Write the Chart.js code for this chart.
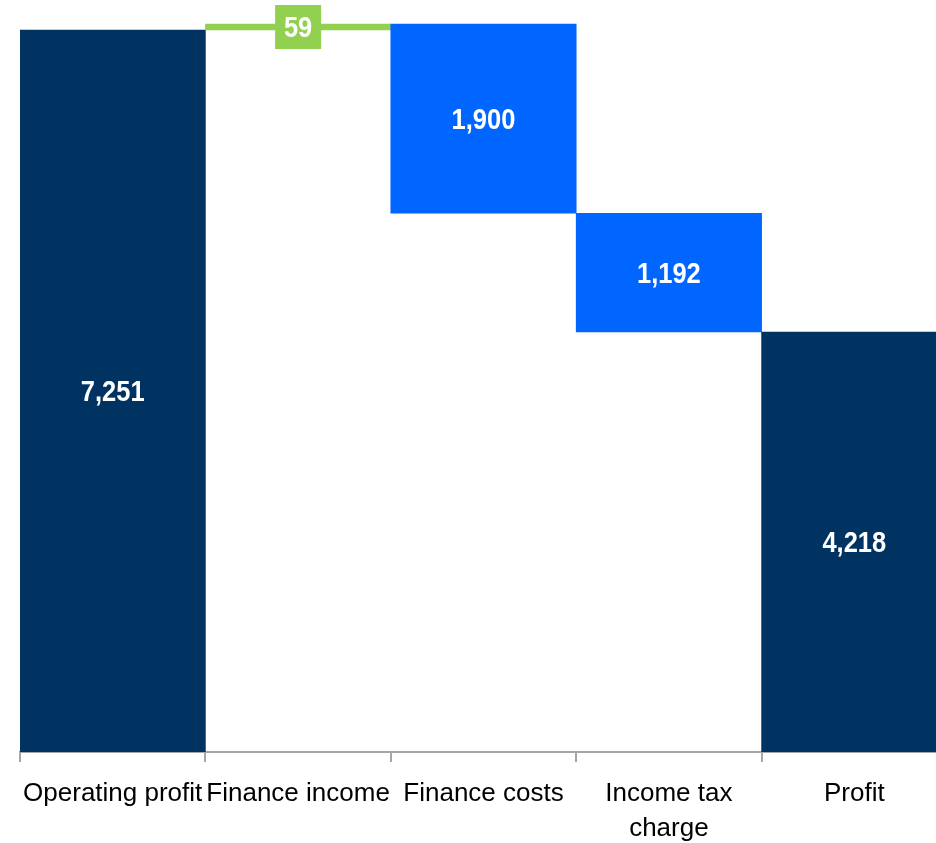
<!DOCTYPE html>
<html>
<head>
<meta charset="utf-8">
<script src="https://cdn.jsdelivr.net/npm/chart.js@4/dist/chart.umd.min.js"></script>
<style>
html,body{margin:0;padding:0;background:#fff;overflow:hidden;}
#wrap{width:936px;height:843px;overflow:hidden;position:relative;}
canvas{display:block;}
</style>
</head>
<body>
<div id="wrap"><canvas id="c" width="947" height="843"></canvas></div>
<script>
const categories = ["Operating profit", "Finance income", "Finance costs", ["Income tax", "charge"], "Profit"];
const values = [7251, 59, -1900, -1192, 4218];
const kinds = ["total", "delta", "delta", "delta", "total"];
const valueLabels = ["7,251", "59", "1,900", "1,192", "4,218"];

const NAVY = "#003362", BLUE = "#0066FF", GREEN = "#92D050";
const FONT = "'Liberation Sans','Arial',sans-serif";

let running = 0;
const ranges = values.map((v, i) => {
  if (kinds[i] === "total") { running = v; return [0, v]; }
  const r = [running, running + v]; running += v; return r;
});
const colors = values.map((v, i) => kinds[i] === "total" ? NAVY : (v >= 0 ? GREEN : BLUE));

const labelPlugin = {
  id: "valueLabels",
  afterDatasetsDraw(chart) {
    const ctx = chart.ctx;
    const meta = chart.getDatasetMeta(0);
    meta.data.forEach((el, i) => {
      const cx = el.x;
      const cy = (el.y + el.base) / 2;
      ctx.save();
      if (kinds[i] === "delta" && values[i] >= 0) {
        ctx.fillStyle = GREEN;
        ctx.fillRect(cx - 23, cy - 22, 46, 44);
      }
      ctx.translate(cx, cy + 2);
      ctx.scale(0.85, 1);
      ctx.font = "bold 30px " + FONT;
      ctx.textAlign = "center";
      ctx.textBaseline = "middle";
      ctx.fillStyle = "#ffffff";
      ctx.fillText(valueLabels[i], 0, 0);
      ctx.restore();
    });
  }
};

new Chart(document.getElementById("c"), {
  type: "bar",
  data: {
    labels: categories,
    datasets: [{
      data: ranges,
      backgroundColor: colors,
      borderWidth: 0,
      barPercentage: 1.0,
      categoryPercentage: 1.0
    }]
  },
  options: {
    responsive: false,
    animation: false,
    layout: { padding: { left: 20, right: 0, top: 0, bottom: 0 } },
    plugins: { legend: { display: false }, tooltip: { enabled: false } },
    scales: {
      y: { display: false, min: 0, max: 7552 },
      x: {
        offset: true,
        grid: {
          offset: true,
          drawOnChartArea: false,
          drawTicks: true,
          tickLength: 10,
          color: "#A6A6A6",
          lineWidth: 2
        },
        border: { display: true, color: "#A6A6A6", width: 2 },
        ticks: {
          color: "#000000",
          padding: 15,
          maxRotation: 0,
          autoSkip: false,
          font: { family: FONT, size: 26, lineHeight: 1.32 }
        },
        afterFit(scale) { scale.height = 91; }
      }
    }
  },
  plugins: [labelPlugin]
});
</script>
</body>
</html>
